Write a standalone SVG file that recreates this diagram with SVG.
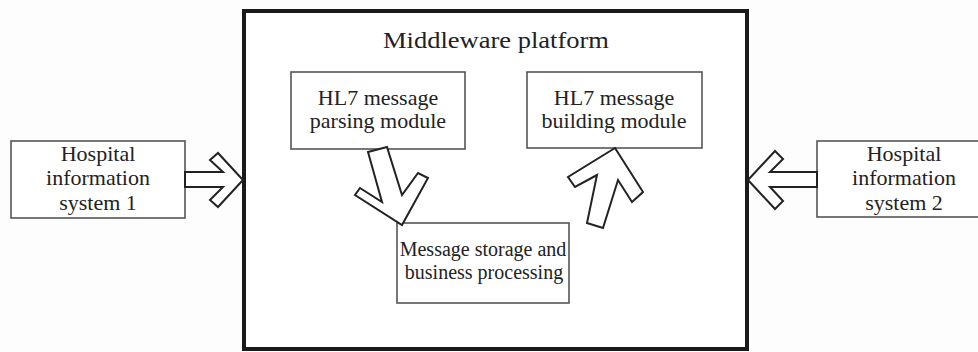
<svg xmlns="http://www.w3.org/2000/svg" width="978" height="352" viewBox="0 0 978 352">
<style>
  .box { fill: #ffffff; stroke: #555555; stroke-width: 1.6; }
  .main { fill: #ffffff; stroke: #1a1a1a; stroke-width: 4; }
  .arrow { fill: #ffffff; stroke: #222222; stroke-width: 2; stroke-linejoin: miter; }
  text { font-family: "Liberation Serif", "Times New Roman", serif; font-size: 22px; fill: #222222; text-anchor: middle; }
  .title { font-size: 24px; }
  .small { font-size: 20px; }
</style>
<rect x="0" y="0" width="978" height="352" fill="#fdfdfd"/>
<g id="middleware">
  <rect class="main" x="244" y="11" width="503" height="338"/>
  <text class="title" x="496" y="48" textLength="226" lengthAdjust="spacingAndGlyphs">Middleware platform</text>
</g>
<g id="his1">
  <rect class="box" x="11" y="141" width="174" height="77"/>
  <text x="98" y="161">Hospital</text>
  <text x="98" y="185">information</text>
  <text x="98" y="210">system 1</text>
</g>
<g id="his2">
  <rect class="box" x="817" y="141" width="175" height="76"/>
  <text x="904" y="161">Hospital</text>
  <text x="904" y="185">information</text>
  <text x="904" y="210">system 2</text>
</g>
<g id="parsing">
  <rect class="box" x="291" y="72" width="174" height="77"/>
  <text x="378" y="105">HL7 message</text>
  <text x="378" y="128">parsing module</text>
</g>
<g id="building">
  <rect class="box" x="527" y="72" width="175" height="76"/>
  <text x="614" y="105">HL7 message</text>
  <text x="614" y="128">building module</text>
</g>
<g id="storage">
  <rect class="box" x="397" y="223" width="172" height="80"/>
  <text class="small" x="483" y="256">Message storage and</text>
  <text class="small" x="484" y="279">business processing</text>
</g>
<g id="connectors">
  <polygon class="arrow" points="185,172 223,172 210,160 218,153 243,180 218,207 210,200 223,187 185,187"/>
  <polygon class="arrow" points="817,172 770,172 783,159 775,151 748,180 775,209 783,201 770,187 817,187"/>
  <polygon class="arrow" points="368,152 387,147 402,195 418,173 428,178 402,225 355,195 360,188 382,202"/>
  <polygon class="arrow" points="615,148 643,192 632,202 618,180 603,228 587,223 597,175 575,187 568,177"/>
</g>
</svg>
